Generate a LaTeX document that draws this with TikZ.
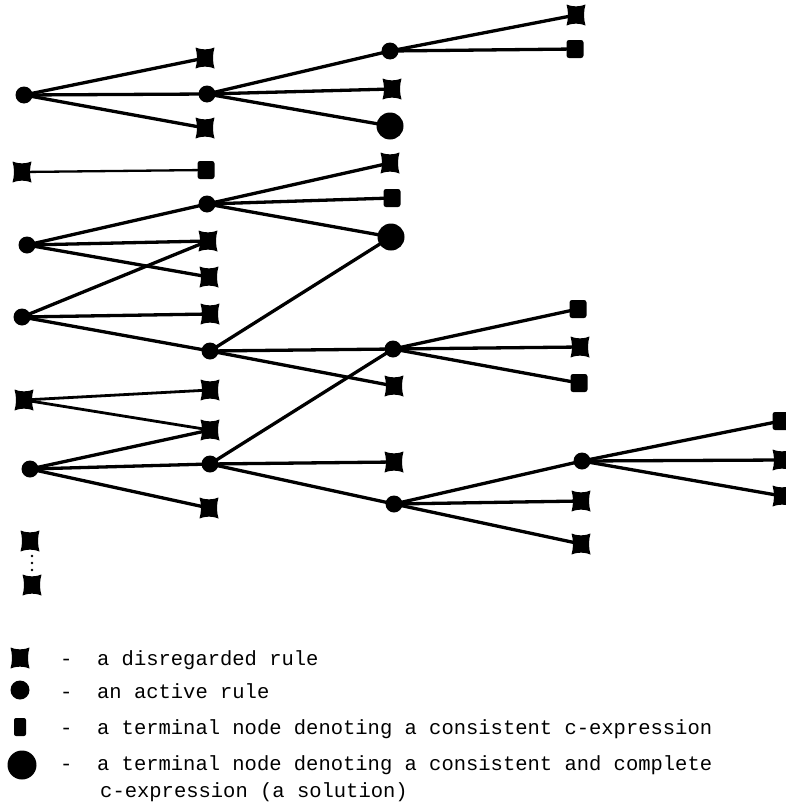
\documentclass[tikz,border=0pt]{standalone}
\usepackage{fontspec}
\newfontfamily\tw{Liberation Mono}
\usetikzlibrary{backgrounds}
\tikzset{
  act/.style={circle,fill=black,inner sep=0pt,minimum size=17pt},
  big/.style={circle,fill=black,inner sep=0pt,minimum size=27pt},
  term/.style={rectangle,fill=black,rounded corners=2.5pt,inner sep=0pt,minimum width=17pt,minimum height=18pt},
  xr/.style={rectangle,inner sep=0pt,minimum width=19pt,minimum height=21pt,
    path picture={\fill[shift={(path picture bounding box.center)}]
      (-9.5,-10.5) .. controls (-4,-8) and (4,-8) .. (9.5,-10.5)
      .. controls (7.5,-4) and (7.5,4) .. (9.5,10.5)
      .. controls (4,8) and (-4,8) .. (-9.5,10.5)
      .. controls (-7.5,4) and (-7.5,-4) .. (-9.5,-10.5) -- cycle;}},
  edge/.style={line width=3.3pt},
  thin/.style={line width=2.3pt},
  leg/.style={anchor=base west,inner sep=0pt,font=\tw\fontsize{20.5}{27}\selectfont},
  dot/.style={circle,fill=black,inner sep=0pt,minimum size=2.6pt}
}
\begin{document}
\begin{tikzpicture}[x=1pt,y=-1pt]
\useasboundingbox (0,0) rectangle (786,803);
\clip (0,0) rectangle (786,803);
% column 1
\node[act] (r1) at (24,95) {};
\node[xr]  (d1) at (22,172) {};
\node[act] (r2) at (27,245) {};
\node[act] (r3) at (22,317) {};
\node[xr]  (d2) at (24,400) {};
\node[act] (r4) at (30,469) {};
\node[xr]  (d3) at (30,541) {};
\node[xr]  (d4) at (32,585) {};
\node[dot] (p1) at (32,556) {};
\node[dot] (p2) at (32,563) {};
\node[dot] (p3) at (32,570) {};
% column 2
\node[xr]  (b1) at (205,58) {};
\node[act] (b2) at (207,94) {};
\node[xr]  (b3) at (205,128) {};
\node[term](b4) at (206,170) {};
\node[act] (b5) at (207,204) {};
\node[xr]  (b6) at (208,241) {};
\node[xr]  (b7) at (209,277) {};
\node[xr]  (b8) at (210,314) {};
\node[act] (b9) at (210,351) {};
\node[xr]  (b10) at (210,390) {};
\node[xr]  (b11) at (210,430) {};
\node[act] (b12) at (210,464) {};
\node[xr]  (b13) at (209,508) {};
% column 3
\node[act] (c1) at (390,51) {};
\node[xr]  (c2) at (392,89) {};
\node[big] (c3) at (390,126) {};
\node[xr]  (c4) at (390,163) {};
\node[term](c5) at (392,198) {};
\node[big] (c6) at (391,237) {};
\node[act] (c7) at (393,349) {};
\node[xr]  (c8) at (394,386) {};
\node[xr]  (c9) at (394,462) {};
\node[act] (c10) at (394,504) {};
% column 4
\node[xr]  (e1) at (576,15) {};
\node[term](e2) at (575,49) {};
\node[term](e3) at (578,309) {};
\node[xr]  (e4) at (580,347) {};
\node[term](e5) at (579,383) {};
\node[act] (e6) at (582,461) {};
\node[xr]  (e7) at (581,501) {};
\node[xr]  (e8) at (581,544) {};
% column 5
\node[term](f1) at (781,421) {};
\node[xr]  (f2) at (782,460) {};
\node[xr]  (f3) at (782,496) {};
% edges
\begin{pgfonlayer}{background}
\foreach \a/\b in {r1/b1,r1/b2,r1/b3,r2/b5,r2/b6,r2/b7,r3/b6,r3/b8,r3/b9,
  r4/b11,r4/b12,r4/b13,b2/c1,b2/c2,b2/c3,c1/e1,c1/e2,b5/c4,b5/c5,b5/c6,
  b9/c6,b9/c7,b9/c8,c7/e3,c7/e4,c7/e5,b12/c7,b12/c9,b12/c10,
  c10/e6,c10/e7,c10/e8,e6/f1,e6/f2,e6/f3}
  \draw[edge] (\a.center) -- (\b.center);
\draw[thin] (d1.center) -- (b4.center);
\foreach \b in {b10,b11} \draw[line width=2.8pt] (d2.center) -- (\b.center);
\end{pgfonlayer}
% legend
\node[xr] (lx) at (20,658) {};
\node[circle,fill=black,inner sep=0pt,minimum width=15pt,minimum height=19pt] (la) at (20,690) {};
\node[rectangle,fill=black,rounded corners=2pt,inner sep=0pt,minimum width=12pt,minimum height=18pt] (ls) at (20,727) {};
\node[circle,fill=black,inner sep=0pt,minimum width=25pt,minimum height=29pt] (lb) at (22,765) {};
\node[leg] (t1) at (60,665) {-\ \ a disregarded rule};
\node[leg] (t2) at (60,698) {-\ \ an active rule};
\node[leg] (t3) at (60,734) {-\ \ a terminal node denoting a consistent c-expression};
\node[leg] (t4) at (60,770) {-\ \ a terminal node denoting a consistent and complete};
\node[leg] (t5) at (100,797) {c-expression (a solution)};
\end{tikzpicture}
\end{document}
